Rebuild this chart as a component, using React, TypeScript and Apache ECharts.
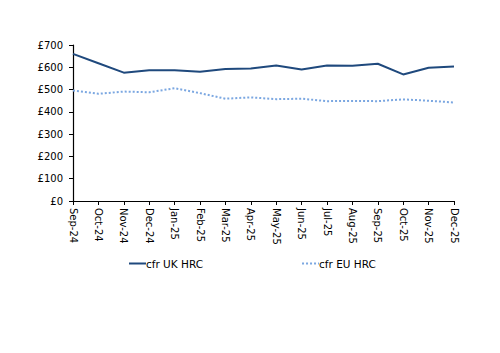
import React, { useEffect, useRef } from "react";
import * as echarts from "echarts";

const months = ["Sep-24","Oct-24","Nov-24","Dec-24","Jan-25","Feb-25","Mar-25","Apr-25","May-25","Jun-25","Jul-25","Aug-25","Sep-25","Oct-25","Nov-25","Dec-25"];
const ukHrc = [660,618,576,587,587,580,592,595,608,590,608,607,616,568,598,604];
const euHrc = [496,481,491,488,506,484,459,465,457,459,448,449,448,456,450,442];
const seriesNames = ["cfr UK HRC", "cfr EU HRC"];

export default function App() {
  const ref = useRef<HTMLDivElement>(null);
  useEffect(() => {
    if (!ref.current) return;
    const chart = echarts.init(ref.current, null, { renderer: "svg" });
    const font = { fontFamily: "DejaVu Sans", fontSize: 10, color: "#000" };
    chart.setOption({
      animation: false,
      backgroundColor: "#fff",
      grid: { left: 73, right: 46, top: 45, bottom: 152, containLabel: false },
      legend: {
        bottom: 79,
        left: 123,
        itemWidth: 17,
        itemHeight: 10,
        itemGap: 98,
        itemStyle: { opacity: 0 },
        textStyle: { ...font, fontSize: 10.5, padding: [0, 0, 0, -5] },
        data: [seriesNames[0], seriesNames[1]],
      },
      xAxis: {
        type: "category",
        data: months,
        boundaryGap: false,
        axisLine: { lineStyle: { color: "#000", width: 1.2 } },
        axisTick: { show: true, length: 4, lineStyle: { color: "#000" } },
        axisLabel: { ...font, rotate: -90, margin: 7, interval: 0 },
        splitLine: { show: false },
      },
      yAxis: {
        type: "value",
        min: 0,
        max: 700,
        interval: 100,
        axisLine: { show: true, lineStyle: { color: "#000", width: 1.2 } },
        axisTick: { show: true, length: 4, lineStyle: { color: "#000" } },
        axisLabel: { ...font, margin: 10, formatter: (v: number) => "£" + v },
        splitLine: { show: false },
      },
      series: [
        {
          name: seriesNames[0],
          type: "line",
          data: ukHrc,
          symbol: "none",
          itemStyle: { color: "#1F497D" },
          lineStyle: { color: "#1F497D", width: 2 },
        },
        {
          name: seriesNames[1],
          type: "line",
          data: euHrc,
          symbol: "none",
          itemStyle: { color: "#7BA7E1" },
          lineStyle: { color: "#7BA7E1", width: 2, type: [2, 2] },
        },
      ],
    });
    return () => chart.dispose();
  }, []);
  return <div ref={ref} style={{ width: 500, height: 353, margin: -8 }} />;
}
